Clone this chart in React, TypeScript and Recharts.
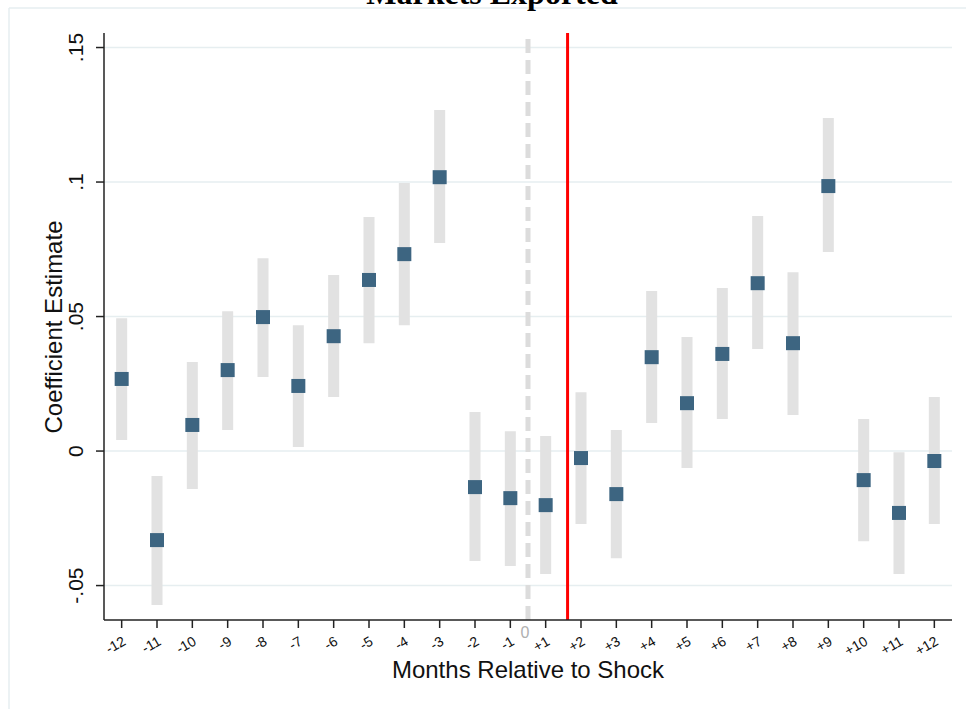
import React from "react";
import {
  ComposedChart,
  Scatter,
  ErrorBar,
  XAxis,
  YAxis,
  CartesianGrid,
  ReferenceLine,
  Label,
} from "recharts";

const monthLabels = [
  "-12", "-11", "-10", "-9", "-8", "-7", "-6", "-5", "-4", "-3", "-2", "-1",
  "+1", "+2", "+3", "+4", "+5", "+6", "+7", "+8", "+9", "+10", "+11", "+12",
];
const coefficients = [
  0.0268, -0.0331, 0.0097, 0.0301, 0.0498, 0.0242, 0.0427, 0.0636, 0.0732, 0.1018, -0.0134, -0.0175,
  -0.0201, -0.0026, -0.016, 0.0349, 0.0178, 0.0361, 0.0624, 0.0401, 0.0985, -0.0108, -0.023, -0.0037,
];
const ciLower = [
  0.0041, -0.0572, -0.0141, 0.0078, 0.0275, 0.0015, 0.0201, 0.0401, 0.0468, 0.0773, -0.0409, -0.0427,
  -0.0457, -0.0271, -0.0398, 0.0104, -0.0063, 0.0119, 0.0379, 0.0134, 0.074, -0.0335, -0.0457, -0.0271,
];
const ciUpper = [
  0.0494, -0.0093, 0.0331, 0.052, 0.0717, 0.0468, 0.0654, 0.087, 0.0996, 0.1268, 0.0145, 0.0074,
  0.0056, 0.0219, 0.0078, 0.0595, 0.0424, 0.0606, 0.0874, 0.0665, 0.1238, 0.0119, -0.0004, 0.0201,
];
const yTicks = [-0.05, 0, 0.05, 0.1, 0.15];
const yTickLabels: Record<string, string> = {
  "-0.05": "-.05",
  "0": "0",
  "0.05": ".05",
  "0.1": ".1",
  "0.15": ".15",
};
const zeroPosition = 11.5; // "0" month sits between -1 and +1
const shockPosition = 12.62; // red line

const data = monthLabels.map((m, i) => ({
  pos: i,
  label: m,
  coef: coefficients[i],
  err: [coefficients[i] - ciLower[i], ciUpper[i] - coefficients[i]],
}));

const xTickValues = [...monthLabels.map((_, i) => i), zeroPosition];

const FONT = "'Liberation Sans', Arial, sans-serif";

const XTick = (props: any) => {
  const { x, y, payload } = props;
  const v = payload.value;
  if (v === zeroPosition) {
    return (
      <text x={x - 3} y={y + 10} textAnchor="middle" fontSize={16} fill="#b0b0b0" fontFamily={FONT}>
        0
      </text>
    );
  }
  const label = monthLabels[v];
  const ax = x + 5;
  const ay = y + 16;
  return (
    <g>
      <line x1={x} y1={y - 8} x2={x} y2={y} stroke="#222" strokeWidth={1.5} />
      <text
        x={ax}
        y={ay}
        textAnchor="end"
        fontSize={14}
        fill="#111"
        fontFamily={FONT}
        transform={`rotate(-30, ${ax}, ${ay})`}
      >
        {label}
      </text>
    </g>
  );
};

const YTick = (props: any) => {
  const { x, y, payload } = props;
  const key = String(Math.round(payload.value * 1000) / 1000);
  const label = yTickLabels[key] ?? String(payload.value);
  const bx = x - 10.5;
  return (
    <text
      x={bx}
      y={y}
      textAnchor="middle"
      fontSize={21}
      fill="#111"
      fontFamily={FONT}
      transform={`rotate(-90, ${bx}, ${y})`}
    >
      {label}
    </text>
  );
};

const Square = (props: any) => {
  const { cx, cy } = props;
  if (cx == null || cy == null) return null;
  return <rect x={cx - 7} y={cy - 7} width={14} height={14} fill="#3d6581" />;
};

export default function App() {
  return (
    <div style={{ position: "absolute", left: 0, top: 0, width: 966, height: 709, background: "#fff" }}>
      <svg
        width={966}
        height={709}
        style={{ position: "absolute", left: 0, top: 0 }}
      >
        <line x1={9} y1={8} x2={966} y2={8} stroke="#e6eef0" strokeWidth={1.5} />
        <line x1={9} y1={8} x2={9} y2={709} stroke="#e6eef0" strokeWidth={1.5} />
        <text
          x={492}
          y={4}
          textAnchor="middle"
          fontSize={32}
          fontWeight="bold"
          fill="#000"
          fontFamily="'Liberation Serif', 'Times New Roman', serif"
        >
          Markets Exported
        </text>
      </svg>
      <div style={{ position: "absolute", left: 0, top: 0 }}>
        <ComposedChart
          width={966}
          height={709}
          data={data}
          margin={{ top: 33, right: 14, bottom: 0, left: 0 }}
        >
          <CartesianGrid
            horizontal
            vertical={false}
            stroke="#e6eef0"
            strokeWidth={1.5}
            horizontalValues={yTicks}
          />
          <XAxis
            type="number"
            dataKey="pos"
            domain={[-0.5, 23.5]}
            ticks={xTickValues}
            interval={0}
            tickLine={false}
            tick={<XTick />}
            axisLine={{ stroke: "#222", strokeWidth: 1.5 }}
            height={89}
            allowDataOverflow
          >
            <Label
              content={() => (
                <text x={528} y={678} textAnchor="middle" fontSize={24} fill="#111" fontFamily={FONT}>
                  Months Relative to Shock
                </text>
              )}
            />
          </XAxis>
          <YAxis
            type="number"
            domain={[-0.0628, 0.1554]}
            ticks={yTicks}
            interval={0}
            allowDataOverflow
            width={104}
            tickSize={8}
            tickLine={{ stroke: "#222", strokeWidth: 1.5 }}
            axisLine={{ stroke: "#222", strokeWidth: 1.5 }}
            tick={<YTick />}
          >
            <Label
              content={() => (
                <text
                  x={62}
                  y={327}
                  textAnchor="middle"
                  fontSize={24}
                  fill="#111"
                  fontFamily={FONT}
                  transform={`rotate(-90, 62, 327)`}
                >
                  Coefficient Estimate
                </text>
              )}
            />
          </YAxis>
          <ReferenceLine
            x={zeroPosition}
            stroke="#dcdcdc"
            strokeWidth={5}
            strokeDasharray="14 7"
            ifOverflow="hidden"
          />
          <ReferenceLine x={shockPosition} stroke="#ff0000" strokeWidth={3} />
          <Scatter dataKey="coef" isAnimationActive={false} shape={<Square />}>
            <ErrorBar
              dataKey="err"
              direction="y"
              width={0}
              stroke="#e2e2e2"
              strokeWidth={11}
              isAnimationActive={false}
            />
          </Scatter>
        </ComposedChart>
      </div>
    </div>
  );
}
